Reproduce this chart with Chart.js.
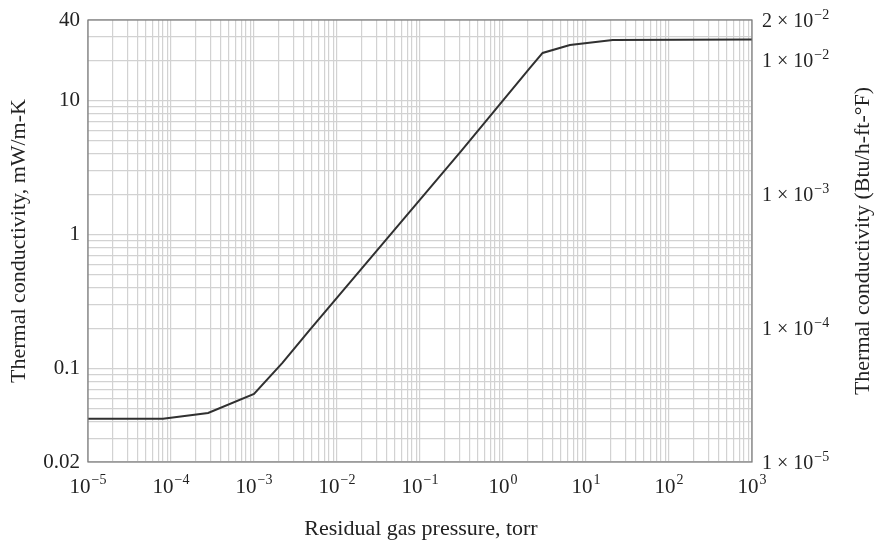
<!DOCTYPE html>
<html>
<head>
<meta charset="utf-8">
<script src="https://cdn.jsdelivr.net/npm/chart.js@4.4.1/dist/chart.umd.min.js"></script>
<style>
  body { margin: 0; background: #fff; }
  #grafica { display: block; }
</style>
</head>
<body>
<canvas id="grafica" width="874" height="545"></canvas>
<script>
// datos
const pressure = [1e-5, 8e-5, 2.8e-4, 1e-3, 2.2e-3, 4.7e-3, 1.9e-2, 0.32, 2.1, 3.0, 6.4, 21, 1000];
const conductivity = [0.042, 0.042, 0.0465, 0.0645, 0.11, 0.194, 0.54, 4.27, 17.5, 22.7, 26.0, 28.4, 28.6];

const xTickValues = [1e-5, 1e-4, 1e-3, 1e-2, 1e-1, 1, 10, 100, 1000];
const xTickExps = ['−5', '−4', '−3', '−2', '−1', '0', '1', '2', '3'];
const yTickValues = [0.02, 0.1, 1, 10, 40];
const yTickLabels = ['0.02', '0.1', '1', '10', '40'];
const y2TickValues = [1e-5, 1e-4, 1e-3, 1e-2, 2e-2];
const y2TickMant = ['1', '1', '1', '1', '2'];
const y2TickExps = ['−5', '−4', '−3', '−2', '−2'];

const xTitle = 'Residual gas pressure, torr';
const yTitle = 'Thermal conductivity, mW/m-K';
const y2Title = 'Thermal conductivity (Btu/h-ft-°F)';

const FONT = "'Liberation Serif', 'DejaVu Serif', serif";
const TEXT = '#222';

// lineas de la reticula logaritmica (1..9 por decada)
function logGrid(min, max) {
  let out = [];
  for (let e = Math.floor(Math.log10(min)); e <= Math.ceil(Math.log10(max)); e++) {
    for (let m = 1; m <= 9; m++) {
      let v = parseFloat((m * Math.pow(10, e)).toPrecision(3));
      if (v >= min * 0.999 && v <= max * 1.001) out.push({ value: v });
    }
  }
  return out;
}

function potencia(ctx, base, exp, x, y, size, align) {
  ctx.font = size + 'px ' + FONT;
  let wb = ctx.measureText(base).width;
  let small = Math.round(size * 0.68);
  ctx.font = small + 'px ' + FONT;
  let we = ctx.measureText(exp).width;
  let total = wb + 1 + we;
  let x0 = align === 'center' ? x - total / 2 : x;
  ctx.textAlign = 'left';
  ctx.font = size + 'px ' + FONT;
  ctx.fillText(base, x0, y);
  ctx.font = small + 'px ' + FONT;
  ctx.fillText(exp, x0 + wb + 1, y - size * 0.42);
}

const etiquetas = {
  id: 'etiquetas',
  afterDraw(chart) {
    const ctx = chart.ctx;
    const a = chart.chartArea;
    const sx = chart.scales.x, sy = chart.scales.y, sy2 = chart.scales.y2;
    ctx.save();
    // marco
    ctx.strokeStyle = '#7a7a7a';
    ctx.lineWidth = 1.2;
    ctx.strokeRect(a.left, a.top, a.right - a.left, a.bottom - a.top);
    ctx.fillStyle = TEXT;
    ctx.textBaseline = 'alphabetic';
    // eje x
    xTickValues.forEach((v, i) => {
      potencia(ctx, '10', xTickExps[i], sx.getPixelForValue(v), a.bottom + 31, 21, 'center');
    });
    // eje y izquierdo
    ctx.font = '21px ' + FONT;
    ctx.textAlign = 'right';
    ctx.textBaseline = 'middle';
    yTickValues.forEach((v, i) => {
      ctx.fillText(yTickLabels[i], a.left - 8, sy.getPixelForValue(v));
    });
    // eje y derecho
    ctx.textBaseline = 'alphabetic';
    y2TickValues.forEach((v, i) => {
      potencia(ctx, y2TickMant[i] + ' × 10', y2TickExps[i], a.right + 10, sy2.getPixelForValue(v) + 7, 20, 'left');
    });
    // titulos
    ctx.font = '22px ' + FONT;
    ctx.textAlign = 'center';
    ctx.textBaseline = 'alphabetic';
    ctx.fillText(xTitle, (a.left + a.right) / 2 + 1, 535);
    ctx.save();
    ctx.translate(25, (a.top + a.bottom) / 2);
    ctx.rotate(-Math.PI / 2);
    ctx.fillText(yTitle, 0, 0);
    ctx.restore();
    ctx.save();
    ctx.translate(869, (a.top + a.bottom) / 2);
    ctx.rotate(-Math.PI / 2);
    ctx.fillText(y2Title, 0, 0);
    ctx.restore();
    ctx.restore();
  }
};

const puntos = pressure.map((p, i) => ({ x: p, y: conductivity[i] }));

new Chart(document.getElementById('grafica'), {
  type: 'line',
  data: {
    datasets: [{
      data: puntos,
      borderColor: '#303030',
      borderWidth: 2,
      pointRadius: 0,
      tension: 0,
      fill: false
    }]
  },
  options: {
    responsive: false,
    animation: false,
    events: [],
    layout: { padding: { left: 88, right: 122, top: 20, bottom: 83 } },
    plugins: { legend: { display: false }, tooltip: { enabled: false } },
    scales: {
      x: {
        type: 'logarithmic',
        min: 1e-5,
        max: 1000,
        afterBuildTicks: s => { s.ticks = logGrid(1e-5, 1000); },
        ticks: { display: false, autoSkip: false },
        grid: { color: '#d2d2d2', lineWidth: 1.2, drawTicks: false },
        border: { display: false }
      },
      y: {
        type: 'logarithmic',
        position: 'left',
        min: 0.02,
        max: 40,
        afterBuildTicks: s => { s.ticks = logGrid(0.02, 40); },
        ticks: { display: false, autoSkip: false },
        grid: { color: '#d2d2d2', lineWidth: 1.2, drawTicks: false },
        border: { display: false }
      },
      y2: {
        type: 'logarithmic',
        position: 'right',
        min: 1e-5,
        max: 2e-2,
        ticks: { display: false },
        grid: { display: false, drawTicks: false },
        border: { display: false }
      }
    }
  },
  plugins: [etiquetas]
});
</script>
</body>
</html>
